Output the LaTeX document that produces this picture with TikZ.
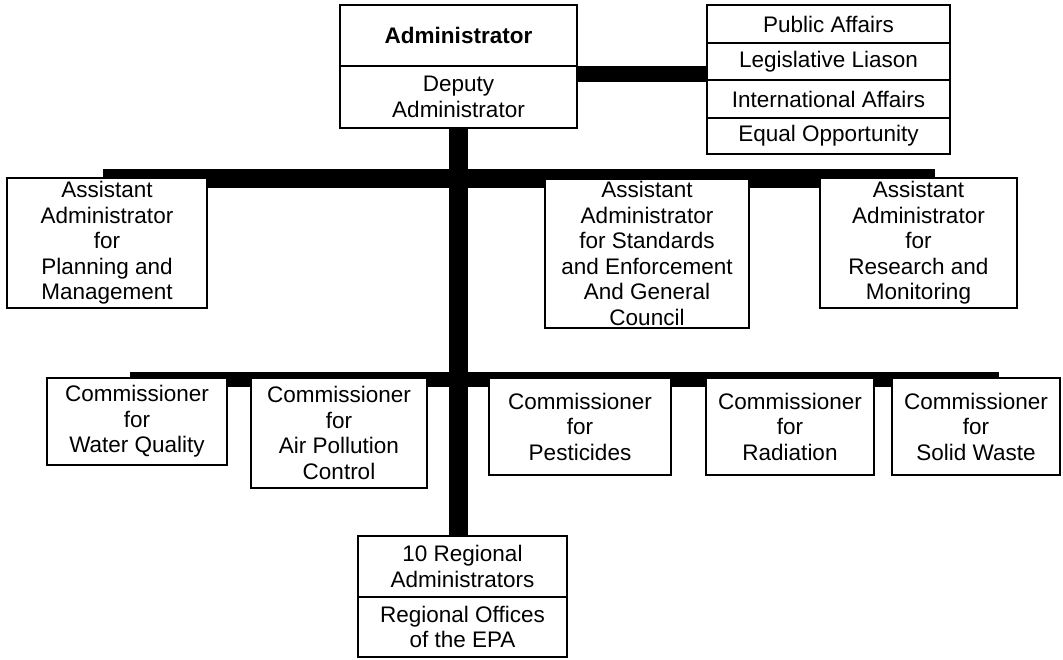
\documentclass[tikz,border=0pt]{standalone}
\usepackage{fontspec}
\setmainfont{Liberation Sans}
\usetikzlibrary{backgrounds}
\tikzset{
  orgbox/.style={draw=black, line width=1.3pt, fill=white, rectangle, anchor=north west,
    inner sep=0pt, outer sep=0pt, align=center,
    font=\fontsize{22.5}{25.5}\selectfont},
  bar/.style={draw=black, line width=#1, line cap=butt}
}
\begin{document}
\begin{tikzpicture}[x=1pt,y=-1pt]
\useasboundingbox (0,0) rectangle (1063,660);
% top
\node[orgbox, minimum width=237pt, minimum height=61pt] (admin) at (340,5) {\textbf{Administrator}};
\node[orgbox, minimum width=237pt, minimum height=62pt] (deputy) at (340,66) {Deputy\\Administrator};
\node[orgbox, minimum width=243pt, minimum height=38pt] (pa1) at (707,5) {Public Affairs};
\node[orgbox, minimum width=243pt, minimum height=37pt] (pa2) at (707,43) {Legislative Liason};
\node[orgbox, minimum width=243pt, minimum height=38pt] (pa3) at (707,80) {International Affairs};
\node[orgbox, minimum width=243pt, minimum height=36pt] (pa4) at (707,118) {Equal Opportunity};
% assistants
\node[orgbox, minimum width=200pt, minimum height=130pt] (aa1) at (7,178) {Assistant\\Administrator\\for\\Planning and\\Management};
\node[orgbox, minimum width=204pt, minimum height=149pt] (aa2) at (545,179) {Assistant\\Administrator\\for Standards\\and Enforcement\\And General\\Council};
\node[orgbox, minimum width=197pt, minimum height=130pt] (aa3) at (820,178) {Assistant\\Administrator\\for\\Research and\\Monitoring};
% commissioners
\node[orgbox, minimum width=180pt, minimum height=87pt] (c1) at (47,378) {Commissioner\\for\\Water Quality};
\node[orgbox, minimum width=176pt, minimum height=110pt] (c2) at (251,378) {Commissioner\\for\\Air Pollution\\Control};
\node[orgbox, minimum width=182pt, minimum height=97pt] (c3) at (489,378) {Commissioner\\for\\Pesticides};
\node[orgbox, minimum width=168pt, minimum height=97pt] (c4) at (706,378) {Commissioner\\for\\Radiation};
\node[orgbox, minimum width=168pt, minimum height=97pt] (c5) at (892,378) {Commissioner\\for\\Solid Waste};
% regional
\node[orgbox, minimum width=209pt, minimum height=61pt] (reg1) at (358,536) {10 Regional\\Administrators};
\node[orgbox, minimum width=209pt, minimum height=60pt] (reg2) at (358,597) {Regional Offices\\of the EPA};
% bars
\coordinate (b1l) at (103,178.5);
\coordinate (b1r) at (935,178.5);
\coordinate (b2l) at (130,379.5);
\coordinate (b2r) at (999,379.5);
\begin{scope}[on background layer]
  \fill[white] (0,0) rectangle (1063,660);
  \draw[bar=19pt] (deputy.south) -- (deputy.south |- reg1.north);
  \draw[bar=19pt] (b1l) -- (b1r);
  \draw[bar=15pt] (b2l) -- (b2r);
  \draw[bar=16pt] ([yshift=-8pt]deputy.north east) -- ([yshift=-8pt]deputy.north east -| pa2.west);
\end{scope}
\end{tikzpicture}
\end{document}
